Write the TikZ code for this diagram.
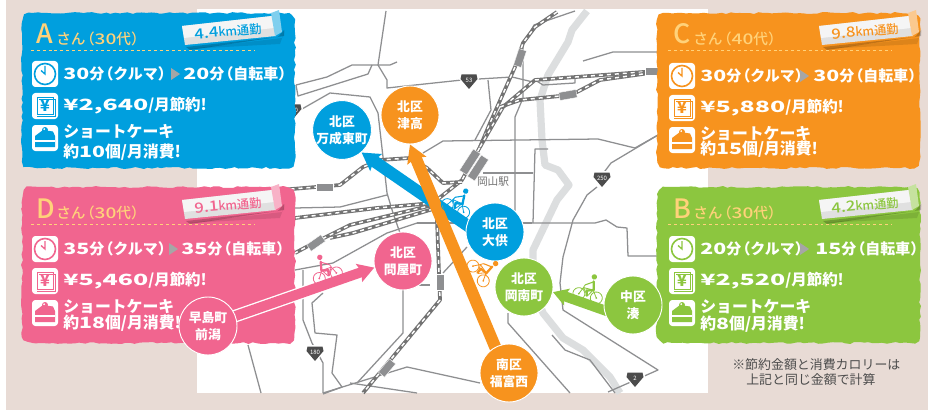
\documentclass[tikz,border=0pt]{standalone}
\usepackage{graphicx}
\usepackage{fontspec}
\setmainfont{Noto Sans CJK JP}
\newfontfamily\jpm{Noto Sans CJK JP Medium}
\usetikzlibrary{arrows.meta,decorations.pathmorphing}
\pgfdeclarelayer{base}
\pgfdeclarelayer{arrowlayer}
\pgfsetlayers{base,arrowlayer,main}
\definecolor{pagebg}{HTML}{E8DBD5}
\definecolor{roadc}{HTML}{8E8F91}
\definecolor{riverc}{HTML}{DCDEDF}
\definecolor{cblue}{HTML}{009FDE}
\definecolor{cpink}{HTML}{F1658F}
\definecolor{corange}{HTML}{F7931E}
\definecolor{cgreen}{HTML}{8CC63F}
\definecolor{ctitle}{HTML}{FFD27A}
\tikzset{
  road/.style={draw=roadc,line width=.95pt,line join=round},
  river/.style={draw=riverc,line width=5.4pt,line join=round},
  railbase/.style={draw=black!55,line width=2.8pt,line join=round},
  railtop/.style={draw=white,line width=1.1pt,dash pattern=on 3pt off 3pt},
  station/.style={fill=roadc,draw=white,line width=.3pt,rectangle,inner sep=0pt},
  place/.style={circle,draw=white,line width=.7pt,minimum size=43.5pt,inner sep=0pt,text=white,align=center,font=\bfseries\fontsize{9.6}{12.8}\selectfont},
  rowtext/.style={anchor=west,inner sep=0pt,text=white,font=\bfseries\fontsize{11.2}{12}\selectfont},
  icontext/.style={inner sep=0pt,text=cc,font=\fontsize{12}{12}\selectfont\bfseries},
  cardbg/.style={fill=cc,decorate,decoration={random steps,segment length=3.4pt,amplitude=.75pt}},
  shieldtext/.style={inner sep=0pt,text=white,font=\fontsize{4.5}{5}\selectfont},
}
\newcommand\cardshape[4]{%
  \fill[cardbg] ({#1+20},#2) -- ({#3-20},#2) .. controls (#3,#2) and (#3,#2) .. (#3,{#2+20})
    -- (#3,{#4-20}) .. controls (#3,#4) and (#3,#4) .. ({#3-20},#4)
    -- ({#1+20},#4) .. controls (#1,#4) and (#1,#4) .. (#1,{#4-20})
    -- (#1,{#2+20}) .. controls (#1,#2) and (#1,#2) .. ({#1+20},#2) -- cycle;}
\newcommand\dg[1]{{\jpm\scalebox{1.38}[1]{\fontsize{11.6}{12}\selectfont #1}}}
\newcommand\ydg[1]{{\jpm\scalebox{1.62}[1]{\fontsize{11.6}{12}\selectfont #1}}}
\newcommand\tagdg[1]{\scalebox{1.2}[1]{\fontsize{10.5}{12}\selectfont #1}}
\newcommand\lp{\hspace{-.38em}（}
\newcommand\rp{）\hspace{-.38em}}
\newcommand\rail[1]{\draw[railbase] #1; \draw[railtop] #1;}
\newcommand\shieldmark[4]{%
  \begin{scope}[shift={(#2,#3)}]
    \fill[white] (-9,-8) -- (9,-8) -- (10,-2) -- (0,10) -- (-10,-2) -- cycle;
    \fill[black!70] (-7.5,-6.5) -- (7.5,-6.5) -- (8.5,-2) -- (0,8) -- (-8.5,-2) -- cycle;
    \node[shieldtext] (#1) at (0,-1) {#4};
  \end{scope}}
\newcommand\bike[5]{%
  \begin{scope}[shift={(#1,#2)},rotate=#3,xscale=#4,line width=.6pt]
    \draw[#5] (-9,6) circle[radius=6];
    \draw[#5] (9,6) circle[radius=6];
    \fill[#5] (-9,6) circle[radius=1];
    \fill[#5] (9,6) circle[radius=1];
    \draw[#5] (-9,6) -- (-4,-1) -- (6,-1) -- (9,6) (-4,-1) -- (0,6) -- (6,-1) (6,-1) -- (5,-4);
    \fill[#5] (-2,-14) circle[radius=2.7];
    \draw[#5,line width=1.7pt,line cap=round] (-2.5,-9.5) -- (-4.5,-1) -- (2,1) -- (1,6);
    \draw[#5,line width=.8pt] (-2.5,-9) -- (5,-4);
  \end{scope}}
\newcommand\cardhead[7]{% dx dy id letter age km textrot
  \begin{scope}[shift={(#1,#2)}]
    \node[inner sep=0pt,anchor=base west,text=ctitle,font=\jpm\fontsize{20}{20}\selectfont] (#3letter) at (36,44) {#4};
    \node[inner sep=0pt,anchor=west,text=ctitle,font=\jpm\fontsize{11}{12}\selectfont] (#3age) at (56,39) {さん\lp\scalebox{1.3}[1]{#5}代\rp};
    \draw[ctitle,line width=1.1pt,dash pattern=on 2.2pt off 2.2pt] (31,50.5) -- (255,50.5);
    \fill[black,opacity=.10] (188,49) -- (282,38) -- (285,30) -- (280,44) -- cycle;
    \fill[black,opacity=.22] (186,47) -- (278,37) -- (284,30) -- (284,36) -- (190,50) -- cycle;
    \fill[black!12!white] (182,26) -- (272,16) -- (276,36) -- (185,45) -- cycle;
    \fill[white,opacity=.7] (182,26) -- (272,16) -- (274,28) -- (184,38) -- cycle;
    \fill[cc!50!white] (271,13) -- (279,10) -- (282,32) -- (275,36) -- cycle;
    \node[inner sep=0pt,rotate=5,text=cc,font=\jpm\fontsize{9.2}{10}\selectfont] (#3km) at (228,31.5) {\tagdg{#6}km通勤};
  \end{scope}}
\newcommand\cardrows[9]{% dx dy id t1 arrowx t2x t2 yen count
  \begin{scope}[shift={(#1,#2)}]
    \node[rowtext] (#3t) at (63,74+\ry) {#4};
    \fill[black!35] (#5,68+\ry) -- (#5+9,74+\ry) -- (#5,80+\ry) -- cycle;
    \node[rowtext] (#3u) at (#6,74+\ry) {#7};
    \node[rowtext] (#3y) at (63,106+\ry) {\ydg{¥#8}\fontsize{11.6}{12}\selectfont/月節約!};
    \node[rowtext,font=\bfseries\fontsize{11.9}{12}\selectfont] (#3c) at (63,132+\ry) {ショートケーキ};
    \node[rowtext,font=\bfseries\fontsize{11.9}{12}\selectfont] (#3d) at (63,\yd) {約\dg{#9}個/月消費!};
    \begin{scope}[shift={(45,74+\ry)}]
      \fill[white,rounded corners=2.5pt] (-13,-13) rectangle (13,13);
      \draw[cc,line width=1.2pt] (0,0) circle[radius=10.5];
      \draw[cc,line width=1pt] (-4,-3.5) -- (0,0) -- (0,-8);
    \end{scope}
    \begin{scope}[shift={(45,106+\ry)}]
      \fill[white,rounded corners=2.5pt] (-13,-13) rectangle (13,13);
      \draw[cc,line width=.7pt] (-6,-7) -- (10,-7) -- (10,10) -- (-8,10);
      \draw[cc,line width=.7pt] (-8,-9) rectangle (8,8);
      \node[icontext] (#3i) at (0,-.5) {¥};
    \end{scope}
    \begin{scope}[shift={(45,138+\ry)}]
      \fill[white,rounded corners=2.5pt] (-13,-13) rectangle (13,13);
      \fill[cc] (-10,-2) -- (-2,-8) -- (8,-6.5) -- (10,-2) -- (10,9) -- (-10,9) -- cycle;
      \fill[cc] (0,-8) circle[radius=3];
      \fill[white] (-10,2) rectangle (10,3.5);
      \fill[white] (-.8,-8.8) circle[radius=1];
    \end{scope}
  \end{scope}}
\begin{document}
\begin{tikzpicture}[x=.75pt,y=-.75pt]
\useasboundingbox (0,0) rectangle (928,410);
\pgfmathsetseed{11}
\begin{pgfonlayer}{base}
\fill[white] (0,0) rectangle (928,410);
\fill[pagebg] (6,0) rectangle (928,410);
\fill[white] (197,9) rectangle (708,393);
% river
\draw[river] (587,11) -- (572,30) -- (568,42) -- (548,75) -- (540,100) -- (542,140) -- (545,165) -- (558,170) -- (569,185) -- (557,200) -- (533,250) -- (533,285) -- (543,313) -- (563,338) -- (583,350) -- (610,377) -- (620,393);
% roads
\draw[road] (386,11) -- (378,65) -- (387,80) -- (387,88) -- (462,80) -- (512,77) -- (533,82);
\draw[road] (296,85) -- (327,77) -- (352,65) -- (390,65) -- (397,62);
\draw[road] (296,85) -- (298,96) -- (368,74) -- (372,65);
\draw[road] (295,113) -- (330,93) -- (370,97) -- (378,113) -- (383,157) -- (387,193) -- (393,213) -- (400,233);
\draw[road] (488,80) -- (491,110) -- (475,140);
\draw[road] (423,153) -- (443,141) -- (598,139) -- (635,148);
\draw[road] (583,61) -- (613,52) -- (658,52);
\draw[road] (635,148) -- (658,135);
\draw[road] (658,135) -- (611,163) -- (602,175);
\draw[road] (597,187) -- (587,195) -- (573,220) -- (563,257) -- (560,283) -- (563,310) -- (658,370) -- (608,392);
\draw[road] (532,223) -- (595,223) -- (606,220) -- (617,227) -- (627,228) -- (628,256) -- (658,256);
\draw[road] (417,223) -- (532,223);
\draw[road] (417,223) -- (387,233) -- (333,263) -- (295,270);
\draw[road] (387,195) -- (340,207) -- (295,208);
\draw[road] (303,270) -- (303,320) -- (312,343) -- (323,363) -- (323,393);
\draw[road] (323,293) -- (312,303) -- (315,333) -- (337,335) -- (332,373) -- (342,387) -- (323,394);
\draw[road] (248,345) -- (261,393);
\draw[road] (403,270) -- (403,333) -- (357,383);
\draw[road] (323,393) -- (407,367) -- (480,383);
\draw[road] (350,383) -- (417,393);
\draw[road] (403,285) -- (430,285);
\draw[road] (443,273) -- (467,247);
\draw[road] (508,313) -- (508,323) -- (570,393);
\draw[road] (552,335) -- (565,350) -- (590,360) -- (615,393);
\draw[road] (515,223) -- (515,117) -- (523,98) -- (523,45) -- (534,25) -- (575,11);
\draw[road] (483,173) -- (533,173);
\draw[road] (533,223) -- (535,149) -- (548,149);
\draw[road] (535,80) -- (543,85) -- (575,83) -- (575,79);
% rails
\rail{(557,12) -- (535,27) -- (523,43) -- (515,67) -- (490,123) -- (480,147) -- (462,180) -- (433,203) -- (377,208) -- (295,218)}
\rail{(480,147) -- (503,107) -- (535,80) -- (657,71)}
\rail{(500,107) -- (520,100) -- (560,96) -- (577,92) -- (600,80) -- (657,72)}
\rail{(462,182) -- (443,183) -- (427,168) -- (410,158) -- (380,160) -- (363,167) -- (340,185) -- (280,190)}
\rail{(433,205) -- (350,225) -- (310,245) -- (295,253)}
\rail{(433,209) -- (353,233) -- (330,238)}
\rail{(437,220) -- (440,300) -- (363,393)}
\node[station,minimum width=13pt,minimum height=6pt,rotate=0] (st1) at (325,187) {};
\node[station,minimum width=6pt,minimum height=12pt] (st2) at (440,282) {};
\node[station,minimum width=13pt,minimum height=6pt,rotate=50] (st3) at (387,368) {};
\node[station,minimum width=19pt,minimum height=6.5pt,rotate=57] (st4) at (470,162) {};
\node[station,minimum width=19pt,minimum height=6.5pt,rotate=57] (st5) at (478,168) {};
\node[station,minimum width=13pt,minimum height=6pt,rotate=72] (st6) at (520,58) {};
\node[station,minimum width=12pt,minimum height=6pt] (st7) at (653,71) {};
\node[station,minimum width=13pt,minimum height=6pt,rotate=10] (st8) at (568,95) {};
\node[station,minimum width=13pt,minimum height=6pt,rotate=35] (st9) at (316,243) {};
\shieldmark{sa}{293}{111}{180}
\shieldmark{sb}{469}{81}{53}
\shieldmark{sc}{602}{179}{250}
\shieldmark{sd}{315}{353}{180}
\shieldmark{se}{635}{379}{2}
\node[inner sep=0pt,text=black!55,font=\fontsize{8}{9}\selectfont] (eki) at (493,182) {岡山駅};
\node[inner sep=0pt,anchor=west,text=black!70,font=\fontsize{9.7}{11}\selectfont] (note1) at (732,365) {※節約金額と消費カロリーは};
\node[inner sep=0pt,anchor=west,text=black!70,font=\fontsize{9.7}{11}\selectfont] (note2) at (746,380) {上記と同じ金額で計算};
% card A
\colorlet{cc}{cblue}
\cardshape{22}{13}{295}{168}
\cardhead{0}{0}{a}{A}{30}{4.4}{5}
\def\ry{0}\def\yd{152}
\cardrows{0}{0}{a}{\dg{30}分\lp クルマ\rp}{171}{183}{\dg{20}分\lp 自転車\rp}{2,640}{10}
% card D
\colorlet{cc}{cpink}
\cardshape{22}{187}{295}{343}
\cardhead{0}{174}{d}{D}{30}{9.1}{5}
\def\ry{0}\def\yd{148}
\cardrows{0}{175}{d}{\dg{35}分\lp クルマ\rp}{169}{181}{\dg{35}分\lp 自転車\rp}{5,460}{18}
% card C
\colorlet{cc}{corange}
\cardshape{657}{13}{920}{168}
\cardhead{637}{0}{c}{C}{40}{9.8}{5}
\def\ry{2}\def\yd{149}
\cardrows{637}{0}{c}{\dg{30}分\lp クルマ\rp}{163}{176}{\dg{30}分\lp 自転車\rp}{5,880}{15}
% card B
\colorlet{cc}{cgreen}
\cardshape{657}{187}{920}{343}
\cardhead{637}{174}{b}{B}{30}{4.2}{5}
\def\ry{0}\def\yd{149}
\cardrows{637}{175}{b}{\dg{20}分\lp クルマ\rp}{163}{178}{\dg{15}分\lp 自転車\rp}{2,520}{8}
\end{pgfonlayer}
% places
\node[place,fill=cblue] (mansei) at (342,130) {北区\\万成東町};
\node[place,fill=corange] (tsudaka) at (410,115) {北区\\津高};
\node[place,fill=cblue] (oto) at (495,232) {北区\\大供};
\node[place,fill=cpink] (toiya) at (403,261) {北区\\問屋町};
\node[place,fill=cgreen] (okanan) at (524,287) {北区\\岡南町};
\node[place,fill=cgreen] (minato) at (633,305) {中区\\湊};
\node[place,fill=corange] (fuku) at (509,373) {南区\\福富西};
\node[place,fill=cpink] (haya) at (208,326) {早島町\\前潟};
% arrows
\begin{pgfonlayer}{arrowlayer}
\draw[cblue,line width=9pt,shorten <=-5pt,-{Stealth[length=13pt,width=15pt,inset=2pt]}] (oto.166) -- (mansei.-49);
\draw[corange,line width=9pt,shorten <=-5pt,-{Stealth[length=13pt,width=15pt,inset=2pt]}] (fuku.118) -- (tsudaka.-90);
\draw[white,line width=9.5pt,shorten <=-2pt,shorten >=8pt] (haya.20) -- (toiya.193);
\draw[cpink,line width=7.5pt,shorten <=-5pt,-{Stealth[length=12pt,width=14pt,inset=2pt]}] (haya.20) -- (toiya.193);
\draw[cgreen,line width=7.5pt,shorten <=-5pt,-{Stealth[length=11pt,width=13pt,inset=2pt]}] (minato.190) -- (okanan.-10);
\end{pgfonlayer}
\bike{458}{203}{-25}{-1}{cblue}
\bike{326}{270}{18}{1}{cpink}
\bike{483}{270}{-55}{-1}{corange}
\bike{589}{290}{-14}{-1}{cgreen}
\end{tikzpicture}
\end{document}
